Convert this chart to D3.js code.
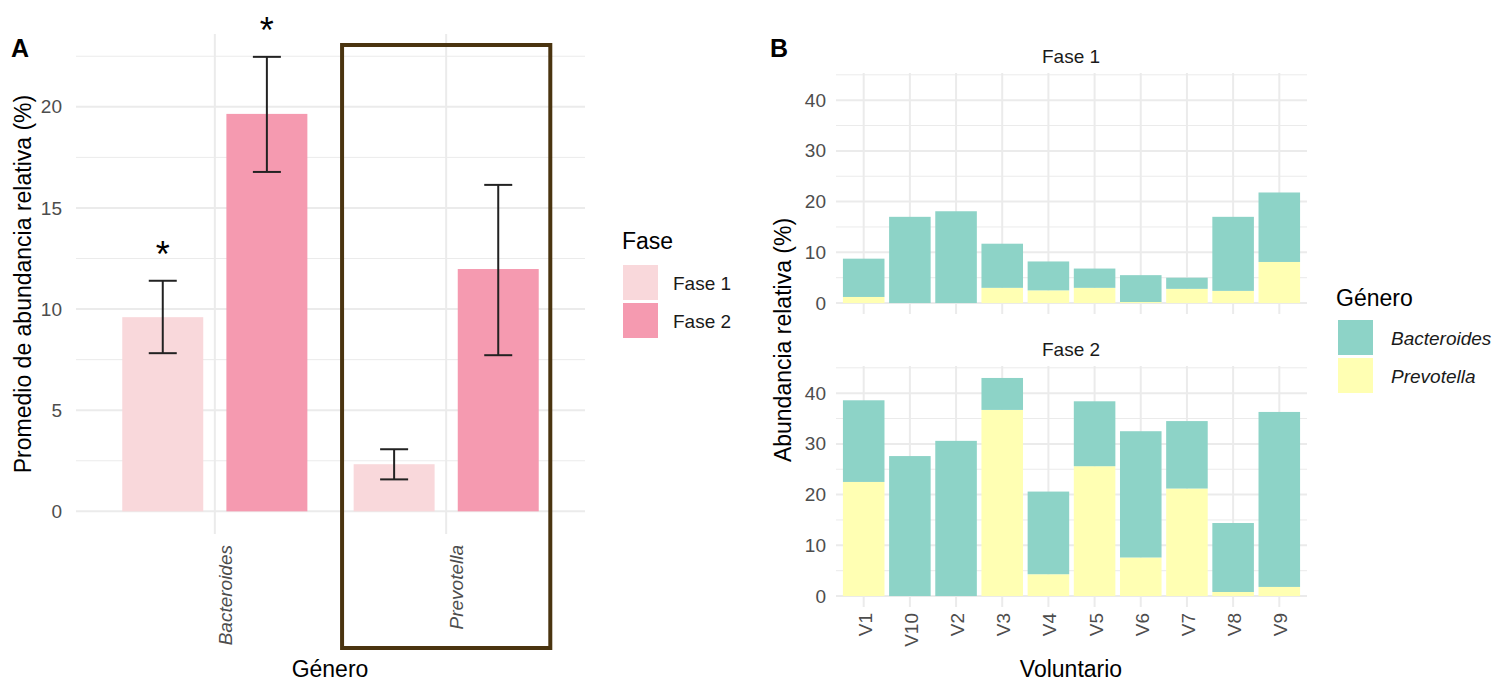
<!DOCTYPE html>
<html>
<head>
<meta charset="utf-8">
<script src="https://cdn.jsdelivr.net/npm/d3@7"></script>
<style>
  body { margin: 0; background: #fff; }
  text { font-family: "Liberation Sans", Arial, sans-serif; }
</style>
</head>
<body>
<div id="chart"></div>
<script>
const width = 1510;
const height = 681;

// Panel A data: mean relative abundance with error bars
const generos = ["Bacteroides", "Prevotella"];
const fases = ["Fase 1", "Fase 2"];
const mediaFase1 = [9.6, 2.33];
const mediaFase2 = [19.65, 11.98];
const infFase1 = [7.82, 1.58];
const supFase1 = [11.4, 3.07];
const infFase2 = [16.78, 7.72];
const supFase2 = [22.47, 16.14];
const signifFase1 = ["*", ""];
const signifFase2 = ["*", ""];
const ticksA = [0, 5, 10, 15, 20];

// Panel B data: stacked abundance per volunteer
const voluntarios = ["V1", "V10", "V2", "V3", "V4", "V5", "V6", "V7", "V8", "V9"];
const prevotellaF1 = [1.2, 0, 0, 3.0, 2.5, 3.0, 0.2, 2.8, 2.4, 8.1];
const bacteroidesF1 = [7.55, 17.0, 18.1, 8.7, 5.7, 3.8, 5.3, 2.2, 14.6, 13.7];
const prevotellaF2 = [22.5, 0, 0, 36.7, 4.3, 25.6, 7.6, 21.2, 0.8, 1.8];
const bacteroidesF2 = [16.1, 27.6, 30.6, 6.3, 16.3, 12.8, 24.9, 13.3, 13.6, 34.5];
const ticksB = [0, 10, 20, 30, 40];

const colorFase = d3.scaleOrdinal().domain(fases).range(["#f9d8db", "#f59ab0"]);
const colorGenero = d3.scaleOrdinal().domain(generos).range(["#8dd3c7", "#ffffb3"]);

const grid = "#ebebeb";
const tickCol = "#4d4d4d";

const svg = d3.select("#chart")
  .append("svg")
  .attr("width", width)
  .attr("height", height);

// ---------- Panel A ----------
const xA = d3.scaleBand()
  .domain(generos)
  .range([76, 585])
  .paddingInner(0)
  .paddingOuter(0.1);
const yA = d3.scaleLinear().domain([-1.12, 23.6]).range([534, 34]);

const gA = svg.append("g");

// minor grid
gA.selectAll("line.minor")
  .data(d3.range(2.5, 23.6, 5))
  .enter().append("line")
  .attr("x1", 76).attr("x2", 585)
  .attr("y1", d => yA(d)).attr("y2", d => yA(d))
  .attr("stroke", grid).attr("stroke-width", 1);

gA.selectAll("line.major")
  .data(ticksA)
  .enter().append("line")
  .attr("x1", 76).attr("x2", 585)
  .attr("y1", d => yA(d)).attr("y2", d => yA(d))
  .attr("stroke", grid).attr("stroke-width", 2);

gA.selectAll("line.vgrid")
  .data(generos)
  .enter().append("line")
  .attr("x1", d => xA(d) + xA.bandwidth() / 2).attr("x2", d => xA(d) + xA.bandwidth() / 2)
  .attr("y1", 34).attr("y2", 534)
  .attr("stroke", grid).attr("stroke-width", 2);

const barsA = [];
generos.forEach((g, i) => {
  barsA.push({ genero: g, fase: "Fase 1", media: mediaFase1[i], inf: infFase1[i], sup: supFase1[i], sig: signifFase1[i], off: -0.225 });
  barsA.push({ genero: g, fase: "Fase 2", media: mediaFase2[i], inf: infFase2[i], sup: supFase2[i], sig: signifFase2[i], off: 0.225 });
});
const step = xA.step();
const cx = d => xA(d.genero) + xA.bandwidth() / 2 + d.off * step;

gA.selectAll("rect.bar")
  .data(barsA)
  .enter().append("rect")
  .attr("x", d => cx(d) - 0.175 * step)
  .attr("width", 0.35 * step)
  .attr("y", d => yA(d.media))
  .attr("height", d => yA(0) - yA(d.media))
  .attr("fill", d => colorFase(d.fase));

const eb = gA.selectAll("g.eb").data(barsA).enter().append("g");
eb.append("line")
  .attr("x1", cx).attr("x2", cx)
  .attr("y1", d => yA(d.inf)).attr("y2", d => yA(d.sup));
eb.append("line")
  .attr("x1", d => cx(d) - 14).attr("x2", d => cx(d) + 14)
  .attr("y1", d => yA(d.inf)).attr("y2", d => yA(d.inf));
eb.append("line")
  .attr("x1", d => cx(d) - 14).attr("x2", d => cx(d) + 14)
  .attr("y1", d => yA(d.sup)).attr("y2", d => yA(d.sup));
eb.selectAll("line").attr("stroke", "#222").attr("stroke-width", 2);

gA.selectAll("text.sig")
  .data(barsA.filter(d => d.sig))
  .enter().append("text")
  .attr("x", cx)
  .attr("y", d => yA(d.sup + 1.65) + 20)
  .attr("text-anchor", "middle")
  .attr("font-size", 36)
  .attr("fill", "#000")
  .text(d => d.sig);

// y axis A
const axA = gA.append("g")
  .attr("transform", "translate(62,0)")
  .call(d3.axisLeft(yA).tickValues(ticksA).tickSize(0).tickPadding(0));
axA.select(".domain").remove();
axA.selectAll("text").attr("font-size", 19).attr("fill", tickCol).attr("font-family", "Liberation Sans, Arial, sans-serif");

// x tick labels A
gA.selectAll("text.xl")
  .data(generos)
  .enter().append("text")
  .attr("transform", d => `translate(${xA(d) + xA.bandwidth() / 2 + 17},545) rotate(-90)`)
  .attr("text-anchor", "end")
  .attr("font-size", 19)
  .attr("font-style", "italic")
  .attr("fill", tickCol)
  .text(d => d);

gA.append("text")
  .attr("transform", "translate(31,284) rotate(-90)")
  .attr("text-anchor", "middle")
  .attr("font-size", 23)
  .text("Promedio de abundancia relativa (%)");

gA.append("text")
  .attr("x", 330).attr("y", 677)
  .attr("text-anchor", "middle")
  .attr("font-size", 23)
  .text("Género");

// highlight box around Prevotella
gA.append("rect")
  .attr("x", xA("Prevotella") + xA.bandwidth() / 2 - 0.45 * step)
  .attr("width", 0.9 * step)
  .attr("y", 45).attr("height", 603)
  .attr("fill", "none")
  .attr("stroke", "#4a3410")
  .attr("stroke-width", 4);

gA.append("text")
  .attr("x", 11).attr("y", 57)
  .attr("font-size", 25).attr("font-weight", "bold")
  .text("A");

// legend A
const legA = svg.append("g");
legA.append("text").attr("x", 622).attr("y", 249).attr("font-size", 23).text("Fase");
fases.forEach((f, i) => {
  legA.append("rect")
    .attr("x", 623).attr("y", 265 + i * 38)
    .attr("width", 35).attr("height", 35)
    .attr("fill", colorFase(f));
  legA.append("text")
    .attr("x", 673).attr("y", 283 + i * 38)
    .attr("dy", "0.35em")
    .attr("font-size", 19)
    .attr("fill", "#1a1a1a")
    .text(f);
});

// ---------- Panel B ----------
const xB = d3.scaleBand()
  .domain(voluntarios)
  .range([836, 1307])
  .paddingInner(0)
  .paddingOuter(0.1);

const paneles = [
  { fase: "Fase 1", prev: prevotellaF1, bact: bacteroidesF1, top: 73, bottom: 314, strip: 56 },
  { fase: "Fase 2", prev: prevotellaF2, bact: bacteroidesF2, top: 366, bottom: 607, strip: 349 }
];

paneles.forEach((p, k) => {
  const y = d3.scaleLinear().domain([-2.16, 45.36]).range([p.bottom, p.top]);
  const g = svg.append("g");

  g.selectAll("line.minor")
    .data([5, 15, 25, 35, 45])
    .enter().append("line")
    .attr("x1", 836).attr("x2", 1307)
    .attr("y1", d => y(d)).attr("y2", d => y(d))
    .attr("stroke", grid).attr("stroke-width", 1);
  g.selectAll("line.major")
    .data(ticksB)
    .enter().append("line")
    .attr("x1", 836).attr("x2", 1307)
    .attr("y1", d => y(d)).attr("y2", d => y(d))
    .attr("stroke", grid).attr("stroke-width", 2);
  g.selectAll("line.vgrid")
    .data(voluntarios)
    .enter().append("line")
    .attr("x1", d => xB(d) + xB.bandwidth() / 2).attr("x2", d => xB(d) + xB.bandwidth() / 2)
    .attr("y1", p.top).attr("y2", p.bottom)
    .attr("stroke", grid).attr("stroke-width", 2);

  const stack = voluntarios.map((v, i) => ({ v: v, Prevotella: p.prev[i], Bacteroides: p.bact[i] }));
  const series = d3.stack().keys(["Prevotella", "Bacteroides"])(stack);

  g.selectAll("g.serie")
    .data(series)
    .enter().append("g")
    .attr("fill", d => colorGenero(d.key))
    .selectAll("rect")
    .data(d => d)
    .enter().append("rect")
    .attr("x", d => xB(d.data.v) + xB.bandwidth() * 0.05)
    .attr("width", xB.bandwidth() * 0.9)
    .attr("y", d => y(d[1]))
    .attr("height", d => y(d[0]) - y(d[1]));

  const ax = g.append("g")
    .attr("transform", "translate(826,0)")
    .call(d3.axisLeft(y).tickValues(ticksB).tickSize(0).tickPadding(0));
  ax.select(".domain").remove();
  ax.selectAll("text").attr("font-size", 19).attr("fill", tickCol).attr("font-family", "Liberation Sans, Arial, sans-serif");

  g.append("text")
    .attr("x", 1071).attr("y", p.strip)
    .attr("dy", "0.35em")
    .attr("text-anchor", "middle")
    .attr("font-size", 19)
    .attr("fill", "#1a1a1a")
    .text(p.fase);

  if (k === 1) {
    g.selectAll("text.xl")
      .data(voluntarios)
      .enter().append("text")
      .attr("transform", d => `translate(${xB(d) + xB.bandwidth() / 2 + 8},613) rotate(-90)`)
      .attr("text-anchor", "end")
      .attr("font-size", 19)
      .attr("fill", tickCol)
      .text(d => d);
  }
});

svg.append("text")
  .attr("transform", "translate(791,340) rotate(-90)")
  .attr("text-anchor", "middle")
  .attr("font-size", 23)
  .text("Abundancia relativa (%)");

svg.append("text")
  .attr("x", 1071).attr("y", 677)
  .attr("text-anchor", "middle")
  .attr("font-size", 23)
  .text("Voluntario");

svg.append("text")
  .attr("x", 770).attr("y", 57)
  .attr("font-size", 25).attr("font-weight", "bold")
  .text("B");

// legend B
const legB = svg.append("g");
legB.append("text").attr("x", 1336).attr("y", 306).attr("font-size", 23).text("Género");
generos.forEach((g, i) => {
  legB.append("rect")
    .attr("x", 1338).attr("y", 320 + i * 38)
    .attr("width", 35).attr("height", 35)
    .attr("fill", colorGenero(g));
  legB.append("text")
    .attr("x", 1391).attr("y", 338 + i * 38)
    .attr("dy", "0.35em")
    .attr("font-size", 19)
    .attr("font-style", "italic")
    .attr("fill", "#1a1a1a")
    .text(g);
});
</script>
</body>
</html>
